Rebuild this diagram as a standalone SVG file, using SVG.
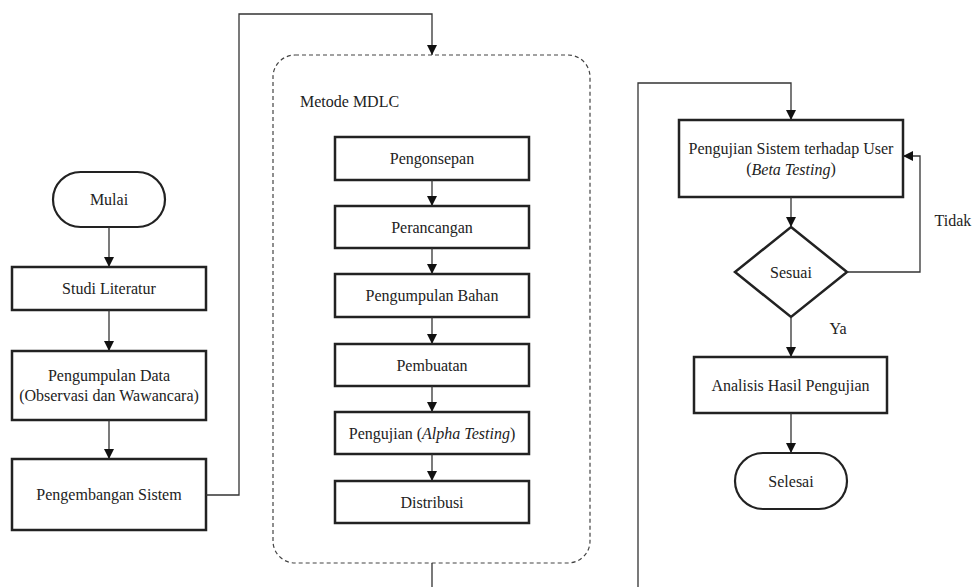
<svg xmlns="http://www.w3.org/2000/svg" width="973" height="587" viewBox="0 0 973 587">
<style>
text{font-family:'Liberation Serif','Tinos','Times New Roman','DejaVu Serif',serif;font-size:16px;fill:#222;text-anchor:middle;dominant-baseline:central}
.box{fill:#fff;stroke:#222;stroke-width:2.5}
.term{fill:#fff;stroke:#222;stroke-width:2.2}
.conn path{fill:none;stroke:#333;stroke-width:1.3;marker-end:url(#arr)}
.cont{fill:none;stroke:#444;stroke-width:1.2;stroke-dasharray:4 3}
</style>
<defs>
<marker id="arr" markerUnits="userSpaceOnUse" markerWidth="10" markerHeight="10" viewBox="0 0 10 10" refX="10" refY="5" orient="auto">
<path d="M0,0 L10,5 L0,10 z" fill="#111"/>
</marker>
</defs>
<rect width="973" height="587" fill="#fff"/>
<g font-family="Liberation Serif, DejaVu Serif, serif">
<g id="container">
<rect class="cont" x="273" y="55" width="317" height="508" rx="22"/>
<text x="300" y="101" style="text-anchor:start">Metode MDLC</text>
</g>

<g id="mulai"><rect class="term" x="53" y="172" width="112" height="55" rx="27.5"/><text x="109" y="199">Mulai</text></g>
<g id="studi"><rect class="box" x="12" y="267" width="194" height="43"/><text x="109" y="288.5">Studi Literatur</text></g>
<g id="pengumpulan-data"><rect class="box" x="12" y="351" width="194" height="69"/><text x="109" y="375.5">Pengumpulan Data</text><text x="109" y="395.5">(Observasi dan Wawancara)</text></g>
<g id="pengembangan"><rect class="box" x="12" y="459" width="194" height="71"/><text x="109" y="494.5">Pengembangan Sistem</text></g>

<g id="pengonsepan"><rect class="box" x="335" y="137" width="194" height="43"/><text x="432" y="158.5">Pengonsepan</text></g>
<g id="perancangan"><rect class="box" x="335" y="206" width="194" height="42"/><text x="432" y="227">Perancangan</text></g>
<g id="pengumpulan-bahan"><rect class="box" x="335" y="274" width="194" height="43"/><text x="432" y="295.5">Pengumpulan Bahan</text></g>
<g id="pembuatan"><rect class="box" x="335" y="344" width="194" height="42"/><text x="432" y="365">Pembuatan</text></g>
<g id="alpha"><rect class="box" x="335" y="412" width="194" height="42"/><text x="432" y="433">Pengujian (<tspan font-style="italic">Alpha Testing</tspan>)</text></g>
<g id="distribusi"><rect class="box" x="335" y="481" width="194" height="42"/><text x="432" y="502">Distribusi</text></g>

<g id="beta"><rect class="box" x="679" y="120" width="224" height="77"/><text x="791" y="148.5">Pengujian Sistem terhadap User</text><text x="791" y="168.5">(<tspan font-style="italic">Beta Testing</tspan>)</text></g>
<g id="sesuai"><polygon class="box" points="791,227 847,272 791,317 735,272"/><text x="791" y="272">Sesuai</text></g>
<g id="analisis"><rect class="box" x="694" y="357" width="193" height="56"/><text x="790.5" y="385">Analisis Hasil Pengujian</text></g>
<g id="selesai"><rect class="term" x="735" y="453" width="112" height="56" rx="28"/><text x="791" y="481">Selesai</text></g>

<g class="conn" id="connectors">
<path d="M109,227 V267"/>
<path d="M109,310 V351"/>
<path d="M109,420 V459"/>
<path d="M206,495 H239 V14 H432 V55"/>
<path d="M432,180 V206"/>
<path d="M432,248 V274"/>
<path d="M432,317 V344"/>
<path d="M432,386 V412"/>
<path d="M432,454 V481"/>
<path d="M432,563 V600 H638 V83 H791 V120"/>
<path d="M791,197 V227"/>
<path d="M847,272 H920 V156 H903"/>
<path d="M791,317 V357"/>
<path d="M791,413 V453"/>
</g>
<g id="labels">
<text x="953" y="220">Tidak</text>
<text x="838" y="328">Ya</text>
</g>
</g>
</svg>
